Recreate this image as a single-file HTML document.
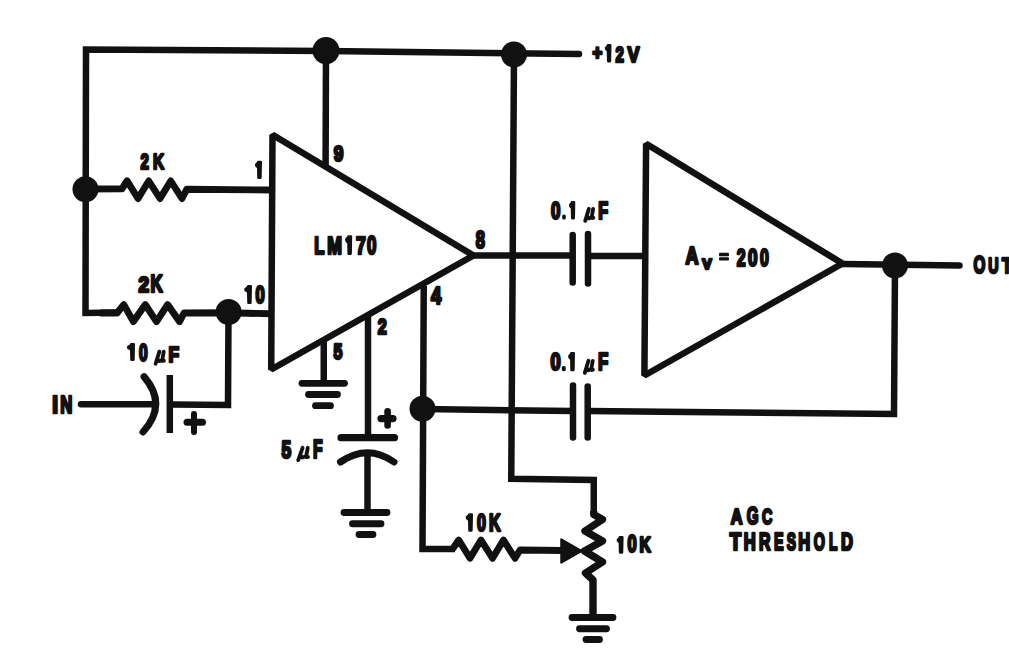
<!DOCTYPE html>
<html><head><meta charset="utf-8"><style>html,body{margin:0;padding:0;background:#fff;overflow:hidden}svg{display:block}text{font-family:"Liberation Sans",sans-serif;font-weight:bold;fill:#111;stroke:#111;stroke-width:2.70px;stroke-linejoin:round}.txt path[stroke=none],.txt rect{fill:#111}</style></head>
<body><svg width="1009" height="660" viewBox="0 0 1009 660">
<g fill="none" stroke="#111" stroke-width="6.5" stroke-linejoin="miter" stroke-linecap="butt">
  <polyline points="326,51 86,49.5 85.5,313 118,312.6"/>
  <polyline points="100,313 117.1,313 123.8,304.6 133.4,321.6 145.3,304.6 156.5,321.6 167.6,304.6 179.5,321.6 184,313 228.6,312.8 271,313.8" stroke-linejoin="round" stroke-width="6.9"/>
  <polyline points="326,51 579,54" stroke-linecap="round"/>
  <polyline points="86,189 122,188.8 127,180.8 138,198.5 148.75,181 160,198.5 170.75,181 182,198.5 186.8,189.2 272,190" stroke-linejoin="round" stroke-width="6.9"/>
  <polyline points="228.5,312 228,405 172,404.5"/>
  <line x1="81" y1="404.3" x2="155" y2="404.3" stroke-linecap="round"/>
  <path d="M144,376.6 Q168,404.3 143,432" stroke-linecap="round" stroke-width="7"/>
  <line x1="169.8" y1="375" x2="169.8" y2="433"/>
  <line x1="187" y1="422.3" x2="202.5" y2="422.3" stroke-linecap="round" stroke-width="7"/>
  <line x1="194" y1="414" x2="194" y2="432" stroke-linecap="round" stroke-width="6"/>
  <polygon points="272.5,134.8 473.5,255.5 271.2,369.5" stroke-linejoin="bevel"/>
  <line x1="326" y1="51" x2="325.6" y2="165"/>
  <line x1="323.75" y1="339" x2="323.75" y2="383"/>
  <g stroke-linecap="round" stroke-width="6.8">
  <line x1="302" y1="383.3" x2="344.5" y2="383.3"/>
  <line x1="308.5" y1="394.5" x2="337.5" y2="394.5"/>
  <line x1="315.5" y1="405.7" x2="330.5" y2="405.7"/>
  <line x1="344" y1="512.5" x2="387" y2="512.5"/>
  <line x1="352.5" y1="523.75" x2="381" y2="523.75"/>
  <line x1="359" y1="534.5" x2="373" y2="534.5"/>
  <line x1="572" y1="617.5" x2="613" y2="617.5"/>
  <line x1="579.5" y1="628.75" x2="606.5" y2="628.75"/>
  <line x1="586" y1="639.5" x2="599.5" y2="639.5"/>
  </g>
  <line x1="368" y1="315" x2="368" y2="437"/>
  <line x1="341" y1="437.7" x2="394.5" y2="437.7" stroke-linecap="round" stroke-width="7.2"/>
  <path d="M340.5,462 Q367.5,443.5 394,462" stroke-linecap="round" stroke-width="7"/>
  <line x1="367.5" y1="452" x2="367.5" y2="512.5"/>
  <line x1="381" y1="418.6" x2="393" y2="418.6" stroke-linecap="round" stroke-width="7.2"/>
  <line x1="387.6" y1="411.3" x2="387.6" y2="425.4" stroke-linecap="round" stroke-width="6.6"/>
  <polyline points="423.75,286 422.5,549 455,549"/>
  <polyline points="452.5,549.2 458.75,540 470,558.3 481,540 492.5,558.3 503.5,540 515,558.3 520,550 562.5,550.5" stroke-linejoin="round" stroke-width="6.8"/>
  <polyline points="514,54 511.25,478.75 593.75,480 593.75,513.75"/>
  <polyline points="593.75,511 593.75,514.5 602.5,519.5 585,531 602.5,541 584.5,551 602.5,562 585.5,573 593,580 593,617.5" stroke-linejoin="round" stroke-width="7.4"/>
  <line x1="473.5" y1="255.5" x2="572.5" y2="255.5"/>
  <line x1="572.7" y1="235" x2="572.7" y2="282.5" stroke-linecap="round"/>
  <line x1="588" y1="234" x2="588" y2="283.5" stroke-linecap="round"/>
  <line x1="588" y1="256" x2="646" y2="256"/>
  <polygon points="646.1,143.8 842.5,263.5 644.4,375.5" stroke-linejoin="bevel"/>
  <line x1="842.5" y1="264" x2="959.5" y2="265.5" stroke-linecap="round"/>
  <polyline points="895,265.5 894,414 587.5,411"/>
  <line x1="573" y1="411" x2="422.5" y2="409"/>
  <line x1="573" y1="385.5" x2="573" y2="437.5" stroke-linecap="round"/>
  <line x1="587.7" y1="386.5" x2="587.7" y2="437.5" stroke-linecap="round"/>
</g>
<g fill="#111">
  <polygon points="561,539 582,551 561,563" stroke="#111" stroke-width="1.5" stroke-linejoin="round"/>
  <circle cx="326" cy="50.6" r="13.5"/>
  <circle cx="514" cy="54.5" r="13"/>
  <circle cx="85.5" cy="189.3" r="13"/>
  <circle cx="228.6" cy="312" r="13"/>
  <circle cx="422.5" cy="408.75" r="13"/>
  <circle cx="895" cy="265.5" r="13"/>
  <rect x="719" y="252.8" width="10" height="3.4" rx="1"/><rect x="719" y="257.2" width="10" height="3.4" rx="1"/>
</g>
<g class="txt">
<text transform="translate(592.40,59.85) scale(0.844,1)" font-size="19.67">+</text>
<path d="M606.75,45.20 Q606.75,44.00 607.95,44.00 L610.30,44.00 Q611.50,44.00 611.50,45.20 L611.20,60.90 Q611.20,62.40 609.70,62.40 L608.25,62.40 Q606.95,62.40 606.95,60.90 L606.75,51.36 L605.40,50.07 Q604.90,49.52 604.90,48.42 L604.90,47.31 Z" stroke="none"/>
<text transform="translate(615.60,61.65) scale(0.666,1)" font-size="22.67">2</text>
<text transform="translate(627.50,61.65) scale(0.790,1)" font-size="22.68">V</text>
<text transform="translate(140.40,168.95) scale(0.666,1)" font-size="22.67">2</text>
<text transform="translate(152.90,168.95) scale(0.678,1)" font-size="22.68">K</text>
<text transform="translate(138.50,291.85) scale(0.845,1)" font-size="22.62">2</text>
<text transform="translate(150.50,291.85) scale(0.712,1)" font-size="23.66">K</text>
<path d="M257.00,161.90 Q257.00,160.70 258.20,160.70 L260.80,160.70 Q262.00,160.70 262.00,161.90 L261.70,177.40 Q261.70,178.90 260.20,178.90 L258.50,178.90 Q257.20,178.90 257.20,177.40 L257.00,167.98 L255.50,166.71 Q255.00,166.16 255.00,165.07 L255.00,163.98 Z" stroke="none"/>
<text transform="translate(333.80,161.35) scale(0.769,1)" font-size="22.57">9</text>
<text transform="translate(314.30,254.15) scale(0.676,1)" font-size="24.68">L</text>
<text transform="translate(327.20,254.15) scale(0.716,1)" font-size="24.68">M</text>
<path d="M347.20,236.50 Q347.20,235.30 348.40,235.30 L351.00,235.30 Q352.20,235.30 352.20,236.50 L351.90,253.40 Q351.90,254.90 350.40,254.90 L348.70,254.90 Q347.40,254.90 347.40,253.40 L347.20,243.14 L345.60,241.77 Q345.10,241.18 345.10,240.00 L345.10,238.83 Z" stroke="none"/>
<text transform="translate(356.00,254.15) scale(0.710,1)" font-size="24.68">7</text>
<text transform="translate(367.10,254.15) scale(0.669,1)" font-size="25.25">0</text>
<text transform="translate(475.80,247.75) scale(0.710,1)" font-size="23.04">8</text>
<path d="M247.00,286.20 Q247.00,285.00 248.20,285.00 L250.80,285.00 Q252.00,285.00 252.00,286.20 L251.70,302.40 Q251.70,303.90 250.20,303.90 L248.50,303.90 Q247.20,303.90 247.20,302.40 L247.00,292.56 L244.80,291.24 Q244.30,290.67 244.30,289.54 L244.30,288.40 Z" stroke="none"/>
<text transform="translate(255.60,302.55) scale(0.711,1)" font-size="23.18">0</text>
<text transform="translate(333.60,359.25) scale(0.713,1)" font-size="22.26">5</text>
<text transform="translate(377.70,333.65) scale(0.711,1)" font-size="22.74">2</text>
<text transform="translate(431.00,303.65) scale(0.766,1)" font-size="24.00">4</text>
<path d="M130.00,344.20 Q130.00,343.00 131.20,343.00 L133.80,343.00 Q135.00,343.00 135.00,344.20 L134.70,359.50 Q134.70,361.00 133.20,361.00 L131.50,361.00 Q130.20,361.00 130.20,359.50 L130.00,350.20 L127.50,348.94 Q127.00,348.40 127.00,347.32 L127.00,346.24 Z" stroke="none"/>
<text transform="translate(139.00,361.15) scale(0.666,1)" font-size="23.29">0</text>
<path d="M159.34,351.60 L155.60,363.80 M157.84,359.16 Q158.09,361.36 159.75,361.12 L162.24,359.65 M163.73,351.60 L162.24,360.14 Q162.07,361.36 163.90,360.63" fill="none" stroke="#111" stroke-width="3.8" stroke-linecap="round" stroke-linejoin="round"/>
<text transform="translate(168.60,361.75) scale(0.771,1)" font-size="22.53">F</text>
<text transform="translate(52.30,412.55) scale(0.839,1)" font-size="24.62">I</text>
<text transform="translate(60.20,412.55) scale(0.680,1)" font-size="24.62">N</text>
<text transform="translate(281.60,458.25) scale(0.713,1)" font-size="24.47">5</text>
<path d="M302.61,447.80 L298.20,460.10 M300.85,455.43 Q301.14,457.64 303.10,457.39 L306.04,455.92 M307.80,447.80 L306.04,456.41 Q305.84,457.64 308.00,456.90" fill="none" stroke="#111" stroke-width="3.8" stroke-linecap="round" stroke-linejoin="round"/>
<text transform="translate(313.10,458.25) scale(0.623,1)" font-size="25.20">F</text>
<text transform="translate(550.90,218.85) scale(0.710,1)" font-size="23.78">0</text>
<rect x="562.20" y="214.50" width="3.60" height="5.10" rx="1.6" stroke="none"/>
<path d="M570.76,202.20 Q570.76,201.00 571.96,201.00 L574.10,201.00 Q575.30,201.00 575.30,202.20 L575.00,218.10 Q575.00,219.60 573.50,219.60 L572.26,219.60 Q570.96,219.60 570.96,218.10 L570.76,208.44 L569.50,207.14 Q569.00,206.58 569.00,205.46 L569.00,204.35 Z" stroke="none"/>
<path d="M588.85,208.90 L585.20,220.90 M587.39,216.34 Q587.63,218.50 589.25,218.26 L591.68,216.82 M593.14,208.90 L591.68,217.30 Q591.52,218.50 593.30,217.78" fill="none" stroke="#111" stroke-width="3.8" stroke-linecap="round" stroke-linejoin="round"/>
<text transform="translate(598.30,218.85) scale(0.678,1)" font-size="23.86">F</text>
<text transform="translate(550.50,370.45) scale(0.752,1)" font-size="24.31">0</text>
<rect x="561.80" y="366.00" width="4.00" height="5.20" rx="1.6" stroke="none"/>
<path d="M570.10,353.30 Q570.10,352.10 571.30,352.10 L573.80,352.10 Q575.00,352.10 575.00,353.30 L574.70,369.70 Q574.70,371.20 573.20,371.20 L571.60,371.20 Q570.30,371.20 570.30,369.70 L570.10,359.74 L568.70,358.40 Q568.20,357.83 568.20,356.68 L568.20,355.54 Z" stroke="none"/>
<path d="M588.44,360.80 L584.80,372.90 M586.99,368.30 Q587.23,370.48 588.85,370.24 L591.28,368.79 M592.74,360.80 L591.28,369.27 Q591.12,370.48 592.90,369.75" fill="none" stroke="#111" stroke-width="3.8" stroke-linecap="round" stroke-linejoin="round"/>
<text transform="translate(598.00,369.85) scale(0.684,1)" font-size="24.62">F</text>
<text transform="translate(685.50,264.35) scale(0.748,1)" font-size="24.00">A</text>
<text transform="translate(702.20,269.25) scale(0.925,1)" font-size="15.25">V</text>
<text transform="translate(736.70,265.55) scale(0.663,1)" font-size="24.07">2</text>
<text transform="translate(748.10,265.55) scale(0.712,1)" font-size="23.92">0</text>
<text transform="translate(759.90,265.55) scale(0.663,1)" font-size="23.92">0</text>
<text transform="translate(973.60,273.05) scale(0.644,1)" font-size="23.62">O</text>
<text transform="translate(988.20,273.05) scale(0.634,1)" font-size="22.53">U</text>
<text transform="translate(1002.10,273.05) scale(0.710,1)" font-size="22.54">T</text>
<path d="M468.00,514.40 Q468.00,513.20 469.20,513.20 L471.80,513.20 Q473.00,513.20 473.00,514.40 L472.70,530.30 Q472.70,531.80 471.20,531.80 L469.50,531.80 Q468.20,531.80 468.20,530.30 L468.00,520.64 L466.30,519.34 Q465.80,518.78 465.80,517.66 L465.80,516.55 Z" stroke="none"/>
<text transform="translate(477.00,531.05) scale(0.675,1)" font-size="23.78">0</text>
<text transform="translate(488.90,531.05) scale(0.675,1)" font-size="23.86">K</text>
<path d="M618.63,537.20 Q618.63,536.00 619.83,536.00 L622.40,536.00 Q623.60,536.00 623.60,537.20 L623.30,552.20 Q623.30,553.70 621.80,553.70 L620.13,553.70 Q618.83,553.70 618.83,552.20 L618.63,543.08 L617.20,541.84 Q616.70,541.31 616.70,540.25 L616.70,539.19 Z" stroke="none"/>
<text transform="translate(627.60,552.35) scale(0.700,1)" font-size="23.51">0</text>
<text transform="translate(639.40,552.35) scale(0.716,1)" font-size="21.96">K</text>
<text transform="translate(730.80,523.55) scale(0.716,1)" font-size="22.68">A</text>
<text transform="translate(746.80,523.55) scale(0.636,1)" font-size="23.88">G</text>
<text transform="translate(762.00,523.55) scale(0.625,1)" font-size="22.91">C</text>
<text transform="translate(729.80,549.65) scale(0.766,1)" font-size="24.36">T</text>
<text transform="translate(743.70,549.65) scale(0.680,1)" font-size="24.36">H</text>
<text transform="translate(759.00,549.65) scale(0.652,1)" font-size="24.36">R</text>
<text transform="translate(773.90,549.65) scale(0.590,1)" font-size="24.36">E</text>
<text transform="translate(786.70,549.65) scale(0.590,1)" font-size="23.37">S</text>
<text transform="translate(798.30,549.65) scale(0.678,1)" font-size="24.36">H</text>
<text transform="translate(813.80,549.65) scale(0.589,1)" font-size="24.37">O</text>
<text transform="translate(828.90,549.65) scale(0.567,1)" font-size="24.36">L</text>
<text transform="translate(841.00,549.65) scale(0.678,1)" font-size="24.36">D</text>
</g></svg></body></html>
